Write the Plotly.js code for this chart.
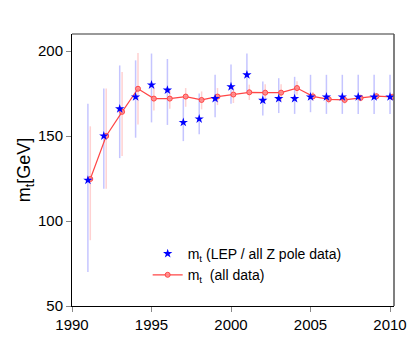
<!DOCTYPE html>
<html>
<head>
<meta charset="utf-8">
<script src="https://cdn.plot.ly/plotly-3.0.1.min.js"></script>
<style>
  html, body { margin: 0; padding: 0; background: #fff; }
  #chart { width: 409px; height: 341px; }
</style>
</head>
<body>
<div id="chart"></div>
<script>
// years of the fits
const years = [1991, 1992, 1993, 1994, 1995, 1996, 1997, 1998, 1999, 2000,
               2001, 2002, 2003, 2004, 2005, 2006, 2007, 2008, 2009, 2010];

// m_t from LEP / all Z pole data (GeV), with asymmetric errors
const lepVal   = [124, 150, 166, 173, 180, 177, 158, 160, 172, 179,
                  186, 171, 172, 172, 173, 173, 173, 173, 173, 173];
const lepPlus  = [45, 28, 25.5, 21.5, 18.5, 18.3, 14, 15, 14, 13,
                  12.6, 11, 12, 12.8, 13, 13, 13, 13, 13, 13];
const lepMinus = [54, 31, 29, 24, 22, 20.5, 11, 9, 11, 10,
                  10, 9, 8.5, 9, 9, 10, 10, 10, 10, 10];

// m_t from all data (GeV)
const allVal   = [124.7, 150, 164.2, 177.8, 172, 172, 173.2, 171.2, 173.2, 174.4,
                  175.7, 175.5, 175.5, 178.2, 173.3, 171.6, 171.2, 172.4, 173.4, 173];
const allPlus  = [31, 28, 23.5, 21, 7, 5, 5, 5, 5, 5,
                  4.5, 5, 5, 4, 2.6, 2.3, 2.2, 2, 2, 2];
const allMinus = [36, 31, 26, 21, 7, 6, 6, 5.5, 5, 5,
                  4.5, 5, 5, 4, 2.6, 2.3, 2.2, 2, 2, 2];

const xShift = 0.15;  // the "all data" points sit just right of the year
const allYears = years.map(y => y + xShift);

const fontFam = "Liberation Sans, Arial, sans-serif";

const traces = [
  {
    // blue error bars only (kept behind the red line)
    type: "scatter", mode: "markers",
    x: years, y: lepVal,
    marker: { size: 1, opacity: 0 },
    error_y: { type: "data", symmetric: false, array: lepPlus, arrayminus: lepMinus,
               color: "rgba(90,90,255,0.35)", thickness: 1.5, width: 0 },
    showlegend: false, hoverinfo: "skip"
  },
  {
    type: "scatter", mode: "lines+markers",
    x: allYears, y: allVal,
    name: "m<sub>t</sub>  (all data)",
    legendrank: 2,
    line: { color: "rgb(255,70,70)", width: 1.2 },
    marker: { symbol: "circle", size: 5, color: "rgba(255,140,140,0.9)",
              line: { color: "rgb(255,70,70)", width: 1 } },
    error_y: { type: "data", symmetric: false, array: allPlus, arrayminus: allMinus,
               color: "rgba(255,90,90,0.28)", thickness: 1.5, width: 0 }
  },
  {
    type: "scatter", mode: "markers",
    x: years, y: lepVal,
    name: "m<sub>t</sub> (LEP / all Z pole data)",
    legendrank: 1,
    marker: { symbol: "star", size: 7, color: "#0000ff", line: { width: 0 } }
  }
];

const layout = {
  width: 409, height: 341,
  margin: { l: 72, r: 15, t: 34, b: 35 },
  paper_bgcolor: "#fff", plot_bgcolor: "#fff",
  font: { family: fontFam, color: "#000", size: 15 },
  showlegend: true,
  legend: {
    x: 0.235, y: 0.25, xanchor: "left", yanchor: "top",
    bgcolor: "rgba(0,0,0,0)", font: { size: 14 },
    tracegroupgap: 0, itemwidth: 30
  },
  xaxis: {
    range: [1990, 2010.25], tickvals: [1990, 1995, 2000, 2005, 2010],
    ticks: "outside", ticklen: 5, tickcolor: "#888",
    showgrid: false, zeroline: false,
    showline: true, linecolor: "#000", linewidth: 1,
    tickfont: { size: 15 }
  },
  yaxis: {
    range: [50, 210], tickvals: [50, 100, 150, 200],
    ticks: "outside", ticklen: 5, tickcolor: "#888",
    showgrid: false, zeroline: false,
    showline: true, linecolor: "#000", linewidth: 1,
    tickfont: { size: 15 },
    title: { text: "m<sub>t</sub>[GeV]", font: { size: 18 }, standoff: 2 }
  },
  shapes: [
    { type: "line", xref: "paper", yref: "paper", x0: 0, x1: 1, y0: 1, y1: 1,
      line: { color: "#777", width: 1.5 } },
    { type: "line", xref: "paper", yref: "paper", x0: 1, x1: 1, y0: 0, y1: 1,
      line: { color: "#555", width: 1.5 } }
  ]
};

Plotly.newPlot("chart", traces, layout, { staticPlot: true, displayModeBar: false });
</script>
</body>
</html>
